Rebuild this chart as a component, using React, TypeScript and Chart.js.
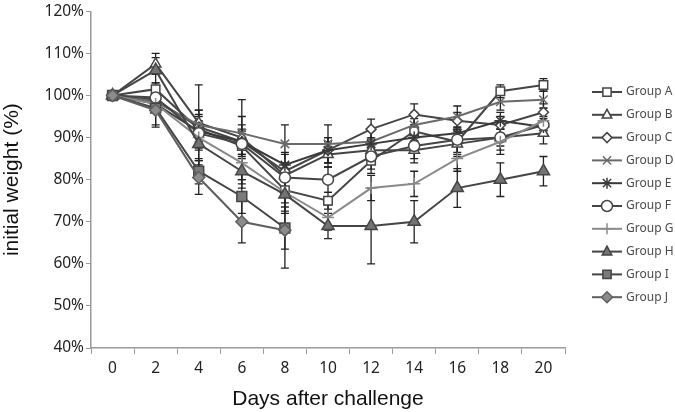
import React, { useEffect, useRef } from "react";
import { Chart, registerables } from "chart.js";

Chart.register(...registerables);

const days = ["0", "2", "4", "6", "8", "10", "12", "14", "16", "18", "20"];
const yTicks = [40, 50, 60, 70, 80, 90, 100, 110, 120];

const groupA = [100, 101.5, 92, 88, 77.5, 75, 84.5, 91.5, 89, 101, 102.5];
const groupB = [100, 107.5, 93.5, 90, 81, 86, 87, 87, 88.5, 90, 91];
const groupC = [100, 99, 92.5, 89, 82, 87, 92, 95.5, 94, 93, 96];
const groupD = [100, 98.5, 93, 91, 88.5, 88.5, 89, 93, 95, 98.5, 99];
const groupE = [100, 98, 91.5, 89, 83.5, 87, 88.5, 90, 91, 94, 92.5];
const groupF = [100, 99.5, 91, 88.5, 80.5, 80, 85.5, 88, 89.5, 90, 93];
const groupG = [100, 98, 90, 84, 77, 71, 78, 79, 85, 89, 94];
const groupH = [100, 106, 88.5, 82, 76.5, 69, 69, 70, 78, 80, 82];
const groupI = [100, 97, 82, 76, 68.5, null, null, null, null, null, null];
const groupJ = [100, 96.5, 80.5, 70, 68, null, null, null, null, null, null];

const errA = [0, 1.5, 3, 3, 3, 2, 3, 3, 3, 1.5, 1.5];
const errB = [0, 2.5, 3, 3, 3, 3, 3, 3, 3, 3, 2.5];
const errC = [0, 2, 4, 10, 4, 3, 2.4, 2.5, 2, 2, 2];
const errD = [0, 2, 9.5, 4, 4.5, 4.5, 3, 3, 2.5, 2, 2];
const errE = [0, 2, 4, 3, 3, 3, 3, 3, 3, 2, 2];
const errF = [0, 2, 3, 3, 3, 3, 3, 3, 3, 2, 2];
const errG = [0, 2, 3, 4, 5, 3, 3, 3, 3, 3, 3];
const errH = [0, 3, 4, 4, 4, 3, 9, 5, 4.6, 4, 3.5];
const errI = [0, 4, 3, 4, 5, null, null, null, null, null, null];
const errJ = [0, 4, 4, 5, 9, null, null, null, null, null, null];

const groupNames = ["Group A", "Group B", "Group C", "Group D", "Group E", "Group F", "Group G", "Group H", "Group I", "Group J"];
const groupValues = [groupA, groupB, groupC, groupD, groupE, groupF, groupG, groupH, groupI, groupJ];
const groupErrors = [errA, errB, errC, errD, errE, errF, errG, errH, errI, errJ];

const styles = [
  { pointStyle: "rect", line: "#454545", fill: "#ffffff", border: "#454545", radius: 6 },
  { pointStyle: "triangle", line: "#454545", fill: "#ffffff", border: "#454545", radius: 6 },
  { pointStyle: "rectRot", line: "#454545", fill: "#ffffff", border: "#454545", radius: 5 },
  { pointStyle: "crossRot", line: "#6a6a6a", fill: "#6a6a6a", border: "#6a6a6a", radius: 6 },
  { pointStyle: "star", line: "#3a3a3a", fill: "#3a3a3a", border: "#3a3a3a", radius: 6 },
  { pointStyle: "circle", line: "#454545", fill: "#ffffff", border: "#454545", radius: 5.5 },
  { pointStyle: "cross", line: "#8a8a8a", fill: "#8a8a8a", border: "#8a8a8a", radius: 6 },
  { pointStyle: "triangle", line: "#454545", fill: "#737373", border: "#454545", radius: 7 },
  { pointStyle: "rect", line: "#454545", fill: "#7a7a7a", border: "#454545", radius: 7 },
  { pointStyle: "rectRot", line: "#5f5f5f", fill: "#8c8c8c", border: "#5f5f5f", radius: 6 },
];

function drawMarker(ctx: CanvasRenderingContext2D, style: string, x: number, y: number, r: number) {
  ctx.beginPath();
  switch (style) {
    case "rect":
      ctx.rect(x - r * 0.75, y - r * 0.75, r * 1.5, r * 1.5);
      ctx.fill();
      ctx.stroke();
      break;
    case "triangle": {
      const h = r * 1.5;
      ctx.moveTo(x, y - r);
      ctx.lineTo(x + h * 0.577 * 1.0, y + r * 0.6);
      ctx.lineTo(x - h * 0.577 * 1.0, y + r * 0.6);
      ctx.closePath();
      ctx.fill();
      ctx.stroke();
      break;
    }
    case "rectRot":
      ctx.moveTo(x, y - r);
      ctx.lineTo(x + r, y);
      ctx.lineTo(x, y + r);
      ctx.lineTo(x - r, y);
      ctx.closePath();
      ctx.fill();
      ctx.stroke();
      break;
    case "circle":
      ctx.arc(x, y, r, 0, Math.PI * 2);
      ctx.fill();
      ctx.stroke();
      break;
    case "crossRot": {
      const d = r * 0.75;
      ctx.moveTo(x - d, y - d);
      ctx.lineTo(x + d, y + d);
      ctx.moveTo(x + d, y - d);
      ctx.lineTo(x - d, y + d);
      ctx.stroke();
      break;
    }
    case "star": {
      const d = r * 0.75;
      ctx.moveTo(x - d, y - d);
      ctx.lineTo(x + d, y + d);
      ctx.moveTo(x + d, y - d);
      ctx.lineTo(x - d, y + d);
      ctx.moveTo(x, y - r);
      ctx.lineTo(x, y + r);
      ctx.moveTo(x - r, y);
      ctx.lineTo(x + r, y);
      ctx.stroke();
      break;
    }
    case "cross":
      ctx.moveTo(x, y - r);
      ctx.lineTo(x, y + r);
      ctx.moveTo(x - r, y);
      ctx.lineTo(x + r, y);
      ctx.stroke();
      break;
  }
}

const errorBarPlugin = {
  id: "errorBars",
  beforeDatasetsDraw(chart: any) {
    const ctx = chart.ctx;
    const yScale = chart.scales.y;
    ctx.save();
    ctx.strokeStyle = "#222";
    ctx.lineWidth = 1.3;
    chart.data.datasets.forEach((ds: any, i: number) => {
      const meta = chart.getDatasetMeta(i);
      const errs = groupErrors[i];
      meta.data.forEach((pt: any, j: number) => {
        const v = ds.data[j];
        const e = errs[j];
        if (v == null || e == null || e === 0) return;
        const x = pt.x;
        const yTop = yScale.getPixelForValue(v + e);
        const yBot = yScale.getPixelForValue(v - e);
        ctx.beginPath();
        ctx.moveTo(x, yTop);
        ctx.lineTo(x, yBot);
        ctx.moveTo(x - 4, yTop);
        ctx.lineTo(x + 4, yTop);
        ctx.moveTo(x - 4, yBot);
        ctx.lineTo(x + 4, yBot);
        ctx.stroke();
      });
    });
    ctx.restore();
  },
};

const legendPlugin = {
  id: "sideLegend",
  afterDraw(chart: any) {
    const ctx = chart.ctx;
    ctx.save();
    const x0 = 592;
    const x1 = 622;
    const y0 = 92;
    const step = 22.8;
    groupNames.forEach((name, i) => {
      const s = styles[i];
      const y = y0 + i * step;
      ctx.strokeStyle = s.line;
      ctx.lineWidth = 2;
      ctx.beginPath();
      ctx.moveTo(x0, y);
      ctx.lineTo(x1, y);
      ctx.stroke();
      ctx.fillStyle = s.fill;
      ctx.strokeStyle = s.border;
      ctx.lineWidth = 1.5;
      drawMarker(ctx, s.pointStyle, (x0 + x1) / 2, y, Math.min(s.radius, 5.5));
      ctx.fillStyle = "#4a4a4a";
      ctx.font = "12px 'Noto Sans'";
      ctx.textAlign = "left";
      ctx.textBaseline = "middle";
      ctx.fillText(name, 626, y);
    });
    ctx.restore();
  },
};

export default function App() {
  const canvasRef = useRef<HTMLCanvasElement>(null);

  useEffect(() => {
    document.body.style.margin = "0";
    const canvas = canvasRef.current;
    if (!canvas) return;
    const datasets = groupNames.map((name, i) => ({
      label: name,
      data: groupValues[i],
      borderColor: styles[i].line,
      backgroundColor: styles[i].fill,
      pointStyle: styles[i].pointStyle,
      pointRadius: styles[i].radius,
      pointBorderColor: styles[i].border,
      pointBackgroundColor: styles[i].fill,
      pointBorderWidth: 1.5,
      borderWidth: 2,
      tension: 0,
      spanGaps: false,
      order: 9 - i,
    }));
    const chart = new Chart(canvas, {
      type: "line",
      data: { labels: days, datasets },
      plugins: [errorBarPlugin, legendPlugin],
      options: {
        animation: false,
        responsive: false,
        devicePixelRatio: 1,
        layout: { padding: { top: 10, right: 110, left: 0, bottom: 0 } },
        plugins: { legend: { display: false }, tooltip: { enabled: false } },
        scales: {
          x: {
            type: "category",
            offset: true,
            grid: { display: true, offset: true, drawOnChartArea: false, drawTicks: true, tickLength: 6, color: "#9a9a9a" },
            border: { color: "#9a9a9a", width: 1.5 },
            ticks: { color: "#222", font: { family: "'Noto Sans'", size: 15.5 }, padding: 5, maxRotation: 0 },
            title: { display: true, text: "Days after challenge", color: "#111", font: { family: "'Liberation Sans'", size: 21 }, padding: { top: 0, bottom: 0 } },
            afterFit: (s: any) => { s.height = 64; },
          },
          y: {
            min: 40,
            max: 120,
            afterBuildTicks: (s: any) => { s.ticks = yTicks.map((v) => ({ value: v })); },
            grid: { display: true, drawOnChartArea: false, drawTicks: true, tickLength: 5, color: "#9a9a9a" },
            border: { color: "#9a9a9a", width: 1.5 },
            ticks: { color: "#222", font: { family: "'Noto Sans'", size: 15.5 }, padding: 2, callback: (v: any) => v + "%" },
            title: { display: true, text: "initial weight (%)", color: "#111", font: { family: "'Liberation Sans'", size: 21 }, padding: { top: 0, bottom: 0 } },
            afterFit: (s: any) => { s.width = 91; },
          },
        },
      },
    });
    return () => chart.destroy();
  }, []);

  return (
    <div style={{ position: "absolute", left: 0, top: 0, width: 675, height: 412, background: "#fff" }}>
      <canvas ref={canvasRef} width={675} height={412} style={{ width: 675, height: 412 }} />
    </div>
  );
}
